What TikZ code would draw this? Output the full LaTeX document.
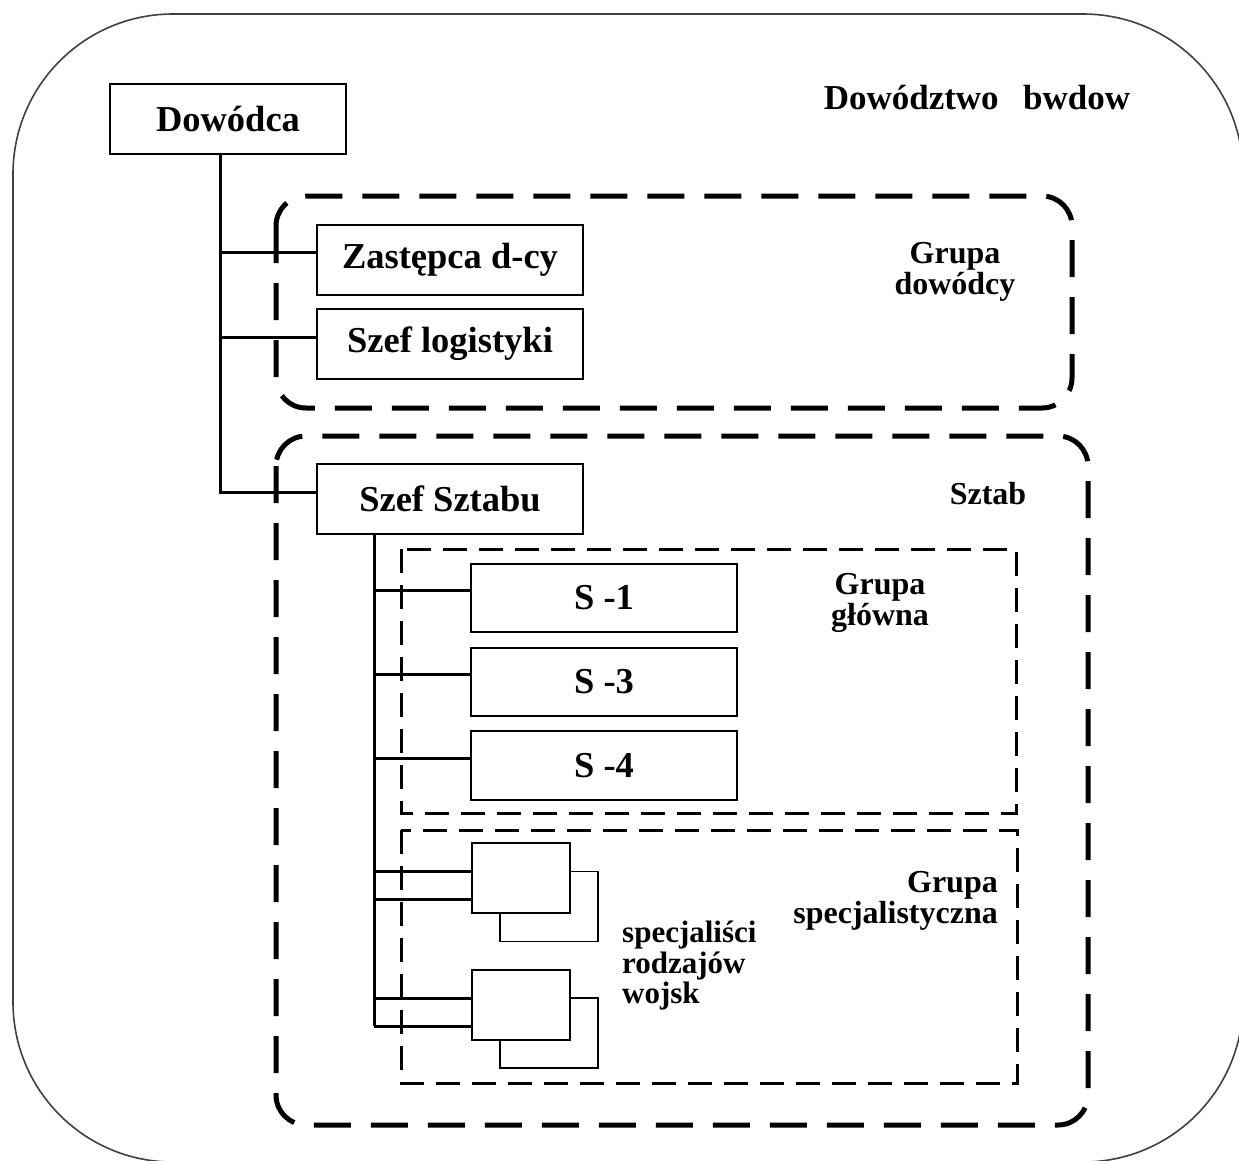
\documentclass[tikz,border=0pt]{standalone}
\usepackage{fontspec}
\setmainfont{Liberation Serif}
\begin{document}
\begin{tikzpicture}[x=1pt,y=-1pt,
  box/.style={draw, line width=1.8pt, fill=white, inner sep=0pt, minimum width=266pt, minimum height=70pt, font=\fontsize{36.5}{40}\selectfont\bfseries},
  spbox/.style={box, minimum width=98pt, minimum height=70pt},
  grp/.style={line width=5pt, dash pattern=on 37pt off 20pt, rounded corners=30pt},
  subgrp/.style={line width=3pt, dash pattern=on 24pt off 12pt},
  conn/.style={line width=3pt},
  lbl/.style={inner sep=0pt, font=\fontsize{32}{30.5}\selectfont\bfseries},
]
\useasboundingbox (0,0) rectangle (1239,1160);
\draw[line width=1.6pt, black!75, rounded corners=160pt] (13,14) rectangle (1243,1162);

% group frames
\draw[grp] (276,196) rectangle (1072,408);
\draw[grp] (276,436) rectangle (1088,1125);
\draw[subgrp] (401,549) rectangle (1016,813);
\draw[subgrp] (401,830) rectangle (1017,1083);

% boxes
\node[box, minimum width=236pt] (dow) at (228,119) {Dowódca};
\node[box] (zas) at (450,260) {Zastępca d-cy};
\node[box] (log) at (450,344) {Szef logistyki};
\node[box] (szs) at (450,499) {Szef Sztabu};
\node[box, minimum height=68pt] (s1) at (604,598) {S -1};
\node[box, minimum height=68pt] (s3) at (604,682) {S -3};
\node[box, minimum height=69pt] (s4) at (604,765.5) {S -4};
\node[spbox] (b1) at (549,906.5) {};
\node[spbox] (f1) at (521,878) {};
\node[spbox] (b2) at (549,1033) {};
\node[spbox] (f2) at (521,1005) {};

% connectors from Dowodca
\coordinate (t1) at (220,492);
\draw[conn] (dow.south -| t1) -- (t1) -- (t1 -| szs.west);
\coordinate (za) at ([yshift=8pt]zas.west);
\coordinate (lo) at ([yshift=7pt]log.west);
\draw[conn] (za -| t1) -- (za);
\draw[conn] (lo -| t1) -- (lo);

% connectors from Szef Sztabu
\coordinate (t2) at (374,1026);
\draw[conn] (szs.south -| t2) -- (t2);
\coordinate (c1) at ([yshift=8pt]s1.west);
\coordinate (c3) at ([yshift=8pt]s3.west);
\coordinate (c4) at ([yshift=7.5pt]s4.west);
\coordinate (c5) at ([yshift=7pt]f1.west);
\coordinate (c6) at ([yshift=-21pt]f1.west);
\coordinate (c7) at ([yshift=7pt]f2.west);
\coordinate (c8) at ([yshift=-21pt]f2.west);
\foreach \c in {c1,c3,c4,c5,c6,c7,c8} {\draw[conn] (\c -| t2) -- (\c);}

% labels
\node[lbl, font=\fontsize{35}{40}\selectfont\bfseries, anchor=base] (title) at (977,109) {Dowództwo\hspace{0.7em}bwdow};
\node[lbl, align=center] (gd) at (955,272) {Grupa\\dowódcy};
\node[lbl, anchor=base] (sz) at (988,504) {Sztab};
\node[lbl, align=center] (gg) at (880,603) {Grupa\\główna};
\node[lbl, align=right, anchor=east] (gs) at (998,901) {Grupa\\specjalistyczna};
\node[lbl, align=left, anchor=west, font=\fontsize{31}{30.5}\selectfont\bfseries] (sp) at (622,966) {specjaliści\\rodzajów\\wojsk};
\end{tikzpicture}
\end{document}
